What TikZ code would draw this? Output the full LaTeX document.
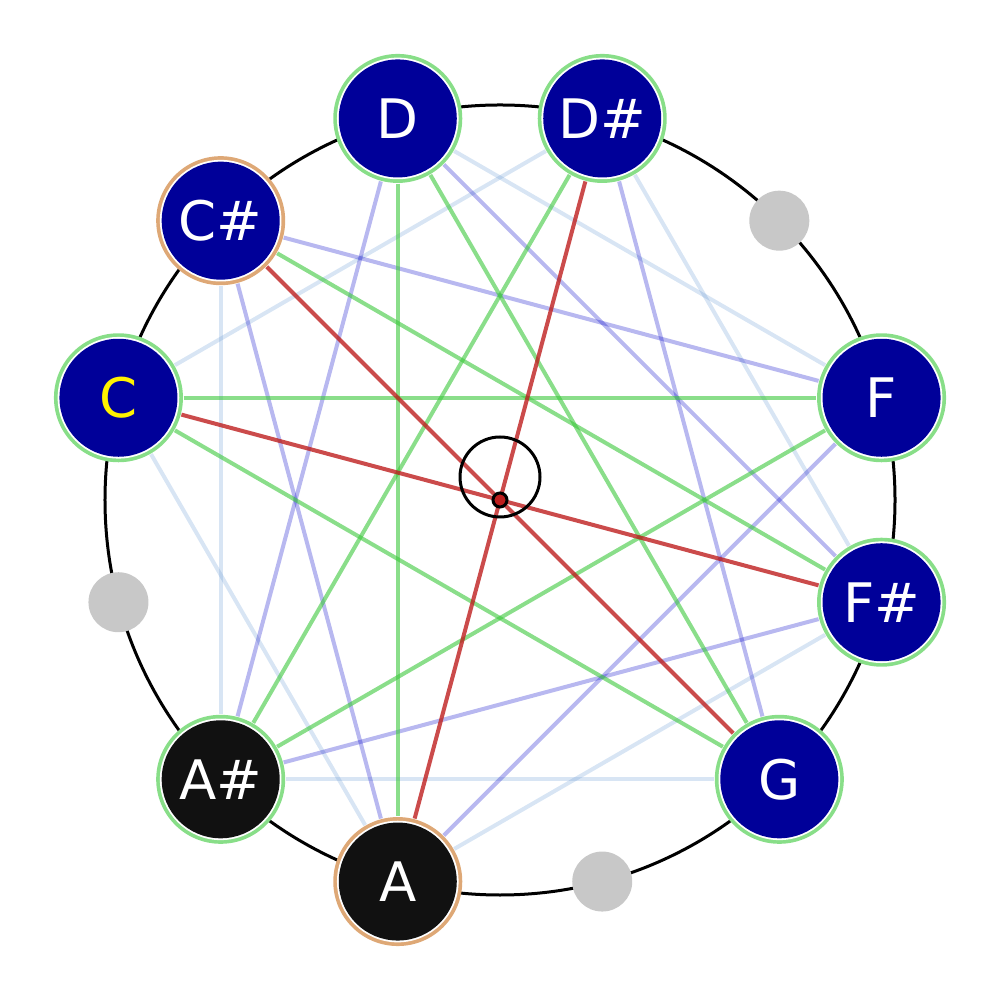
\documentclass[tikz,border=0pt]{standalone}
\usepackage{fontspec}
\newfontfamily\notefont{DejaVu Sans}
\usetikzlibrary{backgrounds}
\definecolor{notefill}{RGB}{0,0,153}
\definecolor{notedark}{RGB}{17,17,17}
\definecolor{ringgreen}{RGB}{136,222,136}
\definecolor{ringtan}{RGB}{222,168,118}
\definecolor{fifthcol}{RGB}{60,200,60}
\definecolor{tritcol}{RGB}{190,30,30}
\definecolor{majcol}{RGB}{0,0,200}
\definecolor{mincol}{RGB}{100,150,210}
\definecolor{restgray}{RGB}{200,200,200}

\begin{document}
\begin{tikzpicture}[
  note/.style 2 args={circle, inner sep=0pt, minimum size=1.29cm, fill=#1, text=white,
    font=\notefont\fontsize{15.5}{18}\selectfont,
    path picture={\fill[white] (path picture bounding box.center) circle (0.608cm);
      \fill[#2] (path picture bounding box.center) circle (0.59cm);}},
  rest/.style={circle, inner sep=0pt, minimum size=0.6cm, fill=restgray},
  fifth/.style={line width=0.04cm, fifthcol, opacity=0.6},
  tritone/.style={line width=0.04cm, tritcol, opacity=0.8},
  major/.style={line width=0.04cm, majcol, opacity=0.28},
  minor/.style={line width=0.04cm, mincol, opacity=0.25}]
\useasboundingbox (-5,-5) rectangle (5,5);

% pitch classes round the circle
\node[note={ringgreen}{notefill}] (D) at (105:3.95) {D};
\node[note={ringgreen}{notefill}] (Ds) at (75:3.95) {D\#};
\node[rest] (E) at (45:3.95) {};
\node[note={ringgreen}{notefill}] (F) at (15:3.95) {F};
\node[note={ringgreen}{notefill}] (Fs) at (-15:3.95) {F\#};
\node[note={ringgreen}{notefill}] (G) at (-45:3.95) {G};
\node[rest] (Gs) at (-75:3.95) {};
\node[note={ringtan}{notedark}] (A) at (-105:3.95) {A};
\node[note={ringgreen}{notedark}] (As) at (-135:3.95) {A\#};
\node[rest] (B) at (-165:3.95) {};
\node[note={ringgreen}{notefill}, text=yellow] (C) at (165:3.95) {C};
\node[note={ringtan}{notefill}] (Cs) at (135:3.95) {C\#};

\begin{pgfonlayer}{background}
\draw [line width=0.03cm] (0,0) circle (3.95);

% minor thirds
\draw [minor] (D)--(F);
\draw [minor] (Ds)--(Fs);
\draw [minor] (Ds)--(C);
\draw [minor] (C)--(A);
\draw [minor] (Cs)--(As);
\draw [minor] (As)--(G);
\draw [minor] (Fs)--(A);

% major thirds
\draw [major] (D)--(As);
\draw [major] (Cs)--(A);
\draw [major] (Cs)--(F);
\draw [major] (D)--(Fs);
\draw [major] (Ds)--(G);
\draw [major] (F)--(A);
\draw [major] (Fs)--(As);

% fifths
\draw [fifth] (D)--(A);
\draw [fifth] (C)--(F);
\draw [fifth] (D)--(G);
\draw [fifth] (Ds)--(As);
\draw [fifth] (Cs)--(Fs);
\draw [fifth] (C)--(G);
\draw [fifth] (F)--(As);

% tritones
\draw [tritone] (Cs)--(G);
\draw [tritone] (C)--(Fs);
\draw [tritone] (Ds)--(A);

\draw [line width=0.03cm] (0,0.23) circle (0.4);
\draw [line width=0.03cm, fill=tritcol] (0,0) circle (0.07);
\end{pgfonlayer}

\end{tikzpicture}
\end{document}
